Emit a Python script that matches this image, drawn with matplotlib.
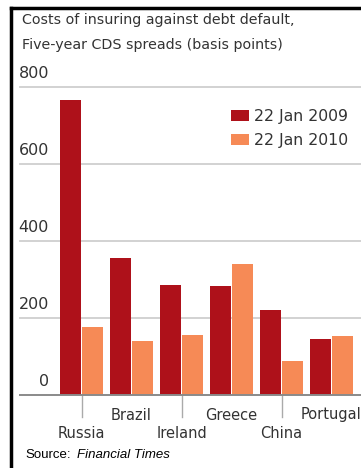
import matplotlib
matplotlib.use("Agg")
import matplotlib.pyplot as plt
import matplotlib.transforms as mtransforms
import numpy as np

plt.rcParams['font.family'] = ['Liberation Sans Narrow', 'DejaVu Sans']

countries = ['Russia', 'Brazil', 'Ireland', 'Greece', 'China', 'Portugal']
jan_2009 = [766, 356, 286, 283, 221, 145]
jan_2010 = [177, 140, 156, 340, 88, 153]
y_ticks = [0, 200, 400, 600, 800]
series_names = ['22 Jan 2009', '22 Jan 2010']

RED = '#AE111A'
ORANGE = '#F68A56'
TXT = '#333333'
W, H = 361, 468

fig = plt.figure(figsize=(W / 100, H / 100), dpi=100)

def fx(px):
    return px / W

def fy(py):
    return 1 - py / H

# plot area: x 20..361 px, baseline at y=395, 800 at y=87
ax = fig.add_axes([fx(20), fy(395), fx(341), fy(87) - fy(395)])
x = np.arange(len(countries))
ax.bar(x - 0.225, jan_2009, width=0.42, color=RED, zorder=3, label=series_names[0])
ax.bar(x + 0.225, jan_2010, width=0.42, color=ORANGE, zorder=3, label=series_names[1])
ax.set_xlim((20 - 81.5) / 50, (361 - 81.5) / 50)
ax.set_ylim(0, 800)
for s in ax.spines.values():
    s.set_visible(False)
ax.set_xticks([])
ax.set_yticks([])
for v in y_ticks[1:]:
    ax.axhline(v, color='#cfcfcf', lw=1.3, zorder=1, clip_on=False)
ax.axhline(0, color='#8a8a8a', lw=1.4, zorder=4, clip_on=False)

# y labels sitting above the gridlines
ylab_tr = mtransforms.offset_copy(
    mtransforms.blended_transform_factory(fig.transFigure, ax.transData),
    fig=fig, y=6, units='dots')
for v in y_ticks:
    ax.text(fx(49), v, str(v), transform=ylab_tr, ha='right', va='bottom',
            fontsize=11.5, color=TXT, clip_on=False)

# category labels, staggered
cat_tr = mtransforms.blended_transform_factory(ax.transData, fig.transFigure)
for i, name in enumerate(countries):
    if i % 2 == 0:
        ax.text(i, fy(434), name, transform=cat_tr, ha='center', va='center',
                fontsize=10.5, color=TXT, clip_on=False)
        ax.plot([i, i], [fy(396), fy(417)], transform=cat_tr, color='#aaaaaa',
                lw=1, clip_on=False)
    else:
        ax.text(i, fy(415), name, transform=cat_tr, ha='center', va='center',
                fontsize=10.5, color=TXT, clip_on=False)

leg = ax.legend(loc='upper right', bbox_to_anchor=(0.995, 0.965), frameon=False,
                fontsize=11.3, handlelength=1.2, handleheight=0.75,
                handletextpad=0.3, labelspacing=0.6, borderaxespad=0.3)
for t in leg.get_texts():
    t.set_color(TXT)

fig.text(fx(22), fy(20), 'Costs of insuring against debt default,', fontsize=10.3,
         color=TXT, va='center')
fig.text(fx(22), fy(45), 'Five-year CDS spreads (basis points)', fontsize=10.3,
         color=TXT, va='center')

fig.text(fx(25), fy(455), 'Source:', fontsize=9.5, family='Liberation Sans',
         va='center', color='black')
fig.text(fx(77), fy(455), 'Financial Times', fontsize=9.5, family='Liberation Sans',
         style='italic', va='center', color='black')

# frame (top and left black border)
fig.add_artist(plt.Line2D([fx(11), 1], [fy(8), fy(8)], color='black', lw=2.5))
fig.add_artist(plt.Line2D([fx(11), fx(11)], [fy(8), 0], color='black', lw=2.5))

fig.savefig('out.png', dpi=100)
